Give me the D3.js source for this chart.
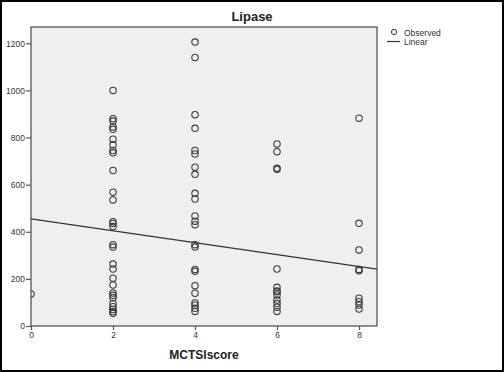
<!DOCTYPE html>
<html><head><meta charset="utf-8">
<script src="https://cdn.jsdelivr.net/npm/d3@7/dist/d3.min.js"></script>
<style>html,body{margin:0;padding:0;background:#fff;}svg{display:block;font-family:"Liberation Sans",Arial,sans-serif;}</style>
</head><body>
<script>
// Data (MCTSI score vs Lipase)
const scoreCategories = [0, 2, 4, 6, 8];
const lipaseScore0 = [136];
const lipaseScore2 = [1000, 880, 870, 845, 835, 793, 769, 745, 735, 660, 568, 535, 443, 435, 422, 345, 335, 263, 242, 203, 174, 140, 130, 120, 96, 82, 70, 60, 54];
const lipaseScore4 = [1205, 1140, 897, 839, 745, 730, 674, 644, 563, 539, 467, 445, 430, 345, 335, 240, 232, 171, 139, 98, 88, 75, 62];
const lipaseScore6 = [773, 740, 670, 665, 242, 164, 149, 145, 132, 110, 95, 80, 62];
const lipaseScore8 = [882, 436, 323, 240, 235, 118, 103, 89, 72];
const linearIntercept = 455;
const linearSlope = -25.3;
const xTicks = [0, 2, 4, 6, 8];
const yTicks = [0, 200, 400, 600, 800, 1000, 1200];
const titleText = "Lipase";
const xLabel = "MCTSIscore";
const legendLabels = ["Observed", "Linear"];

const W = 504, H = 372;
const plot = {left: 31, right: 377, top: 27, bottom: 326};

const svg = d3.select("body").append("svg").attr("width", W).attr("height", H);
svg.append("rect").attr("x", 1).attr("y", 1).attr("width", W - 2).attr("height", H - 2)
  .attr("fill", "#fff").attr("stroke", "#000").attr("stroke-width", 2);

const x = d3.scaleLinear().domain([0, 8]).range([plot.left, 359]);
const y = d3.scaleLinear().domain([0, 1200]).range([plot.bottom, 43.3]);

const groups = [lipaseScore0, lipaseScore2, lipaseScore4, lipaseScore6, lipaseScore8];
const points = [];
groups.forEach((vals, i) => vals.forEach(v => points.push({s: scoreCategories[i], v})));

// plot background
svg.append("rect").attr("x", plot.left).attr("y", plot.top)
  .attr("width", plot.right - plot.left).attr("height", plot.bottom - plot.top)
  .attr("fill", "#efefef");

svg.append("clipPath").attr("id", "clip").append("rect")
  .attr("x", plot.left).attr("y", plot.top)
  .attr("width", plot.right - plot.left).attr("height", plot.bottom - plot.top);

const g = svg.append("g").attr("clip-path", "url(#clip)");
g.selectAll("circle").data(points).join("circle")
  .attr("cx", d => x(d.s)).attr("cy", d => y(d.v)).attr("r", 3.2)
  .attr("fill", "none").attr("stroke", "#3a3a3a").attr("stroke-width", 1.1);

const xMax = x.invert(plot.right);
g.append("line")
  .attr("x1", x(0)).attr("y1", y(linearIntercept))
  .attr("x2", x(xMax)).attr("y2", y(linearIntercept + linearSlope * xMax))
  .attr("stroke", "#333").attr("stroke-width", 1.3);

// frame
svg.append("rect").attr("x", plot.left).attr("y", plot.top)
  .attr("width", plot.right - plot.left).attr("height", plot.bottom - plot.top)
  .attr("fill", "none").attr("stroke", "#555").attr("stroke-width", 1.3);

// axes
const yAxis = svg.append("g").attr("transform", `translate(${plot.left},0)`)
  .call(d3.axisLeft(y).tickValues(yTicks).tickSize(5).tickPadding(1).tickFormat(d3.format("d")));
const xAxis = svg.append("g").attr("transform", `translate(0,${plot.bottom})`)
  .call(d3.axisBottom(x).tickValues(xTicks).tickSize(4).tickPadding(2).tickFormat(d3.format("d")));
[yAxis, xAxis].forEach(a => {
  a.select(".domain").remove();
  a.selectAll(".tick line").attr("stroke", "#555").attr("stroke-width", 1.2);
  a.selectAll(".tick text").attr("fill", "#333").style("font-size", "8.5px");
});

svg.append("text").attr("x", 252).attr("y", 21).attr("text-anchor", "middle")
  .style("font-size", "13px").style("font-weight", "bold").attr("fill", "#222").text(titleText);
svg.append("text").attr("x", 204).attr("y", 359).attr("text-anchor", "middle")
  .style("font-size", "12px").style("font-weight", "bold").attr("fill", "#222").text(xLabel);

// legend
const lg = svg.append("g");
lg.append("circle").attr("cx", 394).attr("cy", 32).attr("r", 2.6)
  .attr("fill", "none").attr("stroke", "#3a3a3a").attr("stroke-width", 1);
lg.append("line").attr("x1", 387).attr("x2", 400).attr("y1", 41.5).attr("y2", 41.5)
  .attr("stroke", "#333").attr("stroke-width", 1.2);
lg.selectAll("text.leg").data(legendLabels).join("text").attr("class", "leg")
  .attr("x", 404).attr("y", (d, i) => 35.5 + i * 9)
  .style("font-size", "8.5px").attr("fill", "#333").text(d => d);
</script>
</body></html>
